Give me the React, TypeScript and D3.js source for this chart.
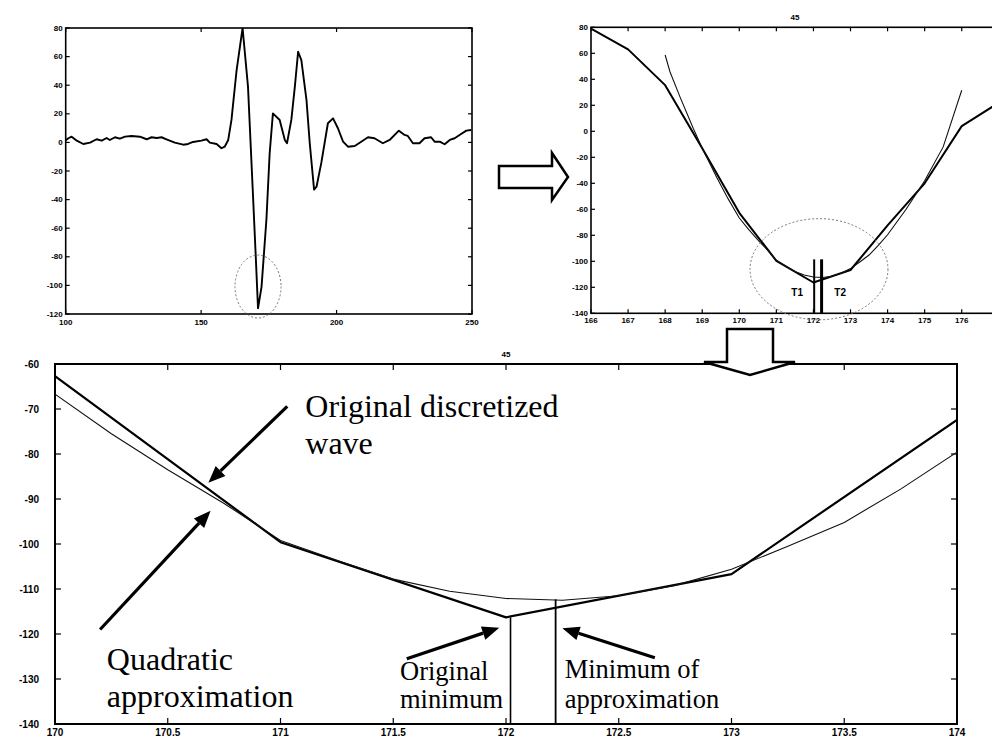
import React from "react";
import * as d3 from "d3";

// Overview of the recorded wave, [sample, amplitude]
const overviewWave: [number, number][] = [
  [100, 1.5], [101.0, 2.9], [102.2, 4.0], [104.1, 1.2], [106.5, -1.1], [109.0, -0.2],
  [111.4, 2.2], [113.3, 1.2], [115.1, 3.1], [116.3, 1.7], [118.2, 3.6], [120.0, 2.6],
  [121.9, 4.0], [124.3, 4.5], [127.4, 4.0], [129.9, 2.2], [131.7, 3.6], [133.6, 3.1],
  [135.4, 3.6], [137.2, 2.2], [140.3, -0.2], [143.4, -1.6], [145.2, -1.1], [147.0, 0.3],
  [150.1, 1.2], [152.0, 2.2], [153.2, -0.2], [155.7, -1.1], [157.5, -4.1], [158.7, -3.0],
  [160.0, 1.7], [161.2, 15.7], [161.7, 25], [163.1, 50.6], [165.3, 80], [167.3, 39],
  [169.0, -31], [170.1, -77], [171.0, -116], [172.3, -101], [174.1, -54], [175.3, -7.6],
  [176.5, 20.3], [179.0, 15.7], [180.9, 1.7], [181.7, -0.6], [183.3, 15.7], [184.6, 39],
  [185.8, 63.4], [187.0, 57.6], [188.9, 29.6], [190.1, -0.6], [191.7, -33], [192.6, -31],
  [194.4, -14], [196.8, 13.4], [198.7, 16.8], [200.5, 9.9], [202.4, 0.5], [204.2, -3.0],
  [206.7, -2.5], [209.1, 0.5], [211.6, 3.6], [214.0, 2.9], [217.1, -0.6], [219.6, 1.7],
  [223.0, 8.2], [225.1, 5.2], [226.3, 4.5], [228.2, -0.6], [230.6, -0.6], [232.5, 2.9],
  [234.9, 3.6], [236.2, 0.5], [238.1, 0.5], [239.9, -1.3], [241.8, 1.7], [243.6, 2.9],
  [245.4, 5.2], [247.9, 8.2], [249.7, 8.7],
];

// Original discretized wave around the trough, one value per sample
const sampleIndex = [166, 167, 168, 169, 170, 171, 172, 173, 174, 175, 176, 177];
const sampleValue = [79, 63, 35.5, -13, -62.7, -99.6, -116.3, -106.7, -72.4, -40, 4, 22];

// Quadratic approximation, evaluated along the trough
const approxX = [168, 168.13, 168.4, 168.76, 169, 169.4, 169.7, 170, 170.25, 170.5, 170.75, 171,
  171.25, 171.5, 171.75, 172, 172.25, 172.5, 172.75, 173, 173.25, 173.5, 173.75, 174, 174.5, 175,
  175.5, 176];
const approxY = [58.7, 45.8, 26.5, 2.2, -13, -36, -52, -66.7, -75.5, -83.5, -91, -99.2,
  -103.6, -107.8, -110.5, -112.1, -112.5, -111.5, -109.2, -105.6, -100.5, -95.2, -87.8, -79.6, -60, -38,
  -12, 31.6];

// Minimum positions
const originalMin: [number, number] = [172.02, -116.3];
const approxMin: [number, number] = [172.22, -112.3];

// Axis ticks
const overviewXTicks = [100, 150, 200, 250];
const overviewYTicks = [80, 60, 40, 20, 0, -20, -40, -60, -80, -100, -120];
const zoomXTicks = [166, 167, 168, 169, 170, 171, 172, 173, 174, 175, 176, 177];
const zoomYTicks = [80, 60, 40, 20, 0, -20, -40, -60, -80, -100, -120, -140];
const detailXTicks = [170, 170.5, 171, 171.5, 172, 172.5, 173, 173.5, 174];
const detailYTicks = [-60, -70, -80, -90, -100, -110, -120, -130, -140];

// Annotations in the detail panel (data units)
const detailArrows: { from: [number, number]; to: [number, number] }[] = [
  { from: [171.03, -69.4], to: [170.68, -86.4] },
  { from: [170.2, -119.0], to: [170.69, -92.6] },
  { from: [171.56, -125.5], to: [171.97, -118.6] },
  { from: [172.66, -125.3], to: [172.25, -118.7] },
];
const detailLabels: { x: number; y: number; text: string; size: number }[] = [
  { x: 171.11, y: -71.8, text: "Original discretized", size: 32 },
  { x: 171.11, y: -80.0, text: "wave", size: 32 },
  { x: 170.23, y: -127.9, text: "Quadratic", size: 32 },
  { x: 170.23, y: -136.2, text: "approximation", size: 32 },
  { x: 171.53, y: -130.2, text: "Original", size: 26.5 },
  { x: 171.53, y: -136.4, text: "minimum", size: 26.5 },
  { x: 172.26, y: -129.7, text: "Minimum of", size: 26.5 },
  { x: 172.26, y: -136.4, text: "approximation", size: 26.5 },
];

type Scale = d3.ScaleLinear<number, number>;

function Frame({
  xs, ys, xTicks, yTicks, fontSize, tickLen, xLabelOffset, yLabelGap, strokeWidth,
}: {
  xs: Scale; ys: Scale; xTicks: number[]; yTicks: number[]; fontSize: number;
  tickLen: number; xLabelOffset: number; yLabelGap: number; strokeWidth: number;
}) {
  const [x0, x1] = xs.range();
  const [y1, y0] = ys.range();
  return (
    <g fontFamily="'Liberation Sans', Arial, sans-serif" fontWeight="bold" fontSize={fontSize} fill="#000">
      <rect x={x0} y={y0} width={x1 - x0} height={y1 - y0} fill="none" stroke="#000" strokeWidth={strokeWidth} />
      {xTicks.map((t) => (
        <g key={"x" + t}>
          <line x1={xs(t)} x2={xs(t)} y1={y1} y2={y1 - tickLen} stroke="#000" strokeWidth={1.2} />
          <line x1={xs(t)} x2={xs(t)} y1={y0} y2={y0 + tickLen} stroke="#000" strokeWidth={1.2} />
          <text x={xs(t)} y={y1 + xLabelOffset} textAnchor="middle">{String(t)}</text>
        </g>
      ))}
      {yTicks.map((t) => (
        <g key={"y" + t}>
          <line x1={x0} x2={x0 + tickLen} y1={ys(t)} y2={ys(t)} stroke="#000" strokeWidth={1.2} />
          <line x1={x1} x2={x1 - tickLen} y1={ys(t)} y2={ys(t)} stroke="#000" strokeWidth={1.2} />
          <text x={x0 - yLabelGap} y={ys(t)} textAnchor="end" dominantBaseline="central">{String(t)}</text>
        </g>
      ))}
    </g>
  );
}

function Arrow({ from, to, width, head, headW }: { from: [number, number]; to: [number, number]; width: number; head: number; headW: number }) {
  const dx = to[0] - from[0];
  const dy = to[1] - from[1];
  const len = Math.hypot(dx, dy);
  const ux = dx / len, uy = dy / len;
  const bx = to[0] - ux * head, by = to[1] - uy * head;
  const px = -uy * headW / 2, py = ux * headW / 2;
  return (
    <g>
      <line x1={from[0]} y1={from[1]} x2={bx} y2={by} stroke="#000" strokeWidth={width} />
      <polygon points={`${to[0]},${to[1]} ${bx + px},${by + py} ${bx - px},${by - py}`} fill="#000" />
    </g>
  );
}

export default function App() {
  // Overview panel
  const ox = d3.scaleLinear().domain([100, 250]).range([65.7, 472]);
  const oy = d3.scaleLinear().domain([-120, 80]).range([314, 28]);
  // Zoomed trough panel
  const zx = d3.scaleLinear().domain([166, 177]).range([591, 998.8]);
  const zy = d3.scaleLinear().domain([-140, 80]).range([313.3, 27.3]);
  // Detail panel
  const dx = d3.scaleLinear().domain([170, 174]).range([55, 957]);
  const dy = d3.scaleLinear().domain([-140, -60]).range([724, 364]);

  const samples: [number, number][] = sampleIndex.map((s, i) => [s, sampleValue[i]]);
  const approx: [number, number][] = approxX.map((s, i) => [s, approxY[i]]);

  const lineFor = (xs: Scale, ys: Scale) =>
    d3.line<[number, number]>().x((d) => xs(d[0])).y((d) => ys(d[1]));

  const oLine = lineFor(ox, oy);
  const zLine = lineFor(zx, zy);
  const dLine = lineFor(dx, dy);

  const clipRect = (id: string, xs: Scale, ys: Scale) => {
    const [x0, x1] = xs.range();
    const [y1, y0] = ys.range();
    return (
      <clipPath id={id}>
        <rect x={x0} y={y0} width={x1 - x0} height={y1 - y0} />
      </clipPath>
    );
  };

  return (
    <svg width={992} height={737} viewBox="0 0 992 737"
      style={{ position: "absolute", left: 0, top: 0, display: "block", background: "#fff" }}>
      <defs>
        {clipRect("clip-o", ox, oy)}
        {clipRect("clip-z", zx, zy)}
        {clipRect("clip-d", dx, dy)}
      </defs>
      <rect x={0} y={0} width={992} height={737} fill="#fff" />

      {/* Overview */}
      <Frame xs={ox} ys={oy} xTicks={overviewXTicks} yTicks={overviewYTicks} fontSize={8}
        tickLen={4} xLabelOffset={11} yLabelGap={3} strokeWidth={1.6} />
      <path d={oLine(overviewWave) || ""} fill="none" stroke="#000" strokeWidth={1.9}
        strokeLinejoin="round" clipPath="url(#clip-o)" />
      <ellipse cx={ox(171.0)} cy={oy(-100.8)} rx={ox(171.0 + 8.5) - ox(171.0)} ry={oy(-100.8 - 22) - oy(-100.8)}
        fill="none" stroke="#777" strokeWidth={1} strokeDasharray="2 2" />

      {/* Zoomed trough */}
      <text x={(zx(166) + zx(177)) / 2} y={20} textAnchor="middle" fontFamily="'Liberation Sans', Arial, sans-serif"
        fontWeight="bold" fontSize={8}>45</text>
      <Frame xs={zx} ys={zy} xTicks={zoomXTicks} yTicks={zoomYTicks} fontSize={8}
        tickLen={4} xLabelOffset={10} yLabelGap={3} strokeWidth={1.6} />
      <g clipPath="url(#clip-z)">
        <path d={zLine(samples) || ""} fill="none" stroke="#000" strokeWidth={2} strokeLinejoin="round" />
        <path d={zLine(approx) || ""} fill="none" stroke="#111" strokeWidth={1.1} />
      </g>
      <line x1={zx(originalMin[0])} x2={zx(originalMin[0])} y1={zy(-98.5)} y2={zy(-140)} stroke="#000" strokeWidth={2} />
      <line x1={zx(approxMin[0])} x2={zx(approxMin[0])} y1={zy(-98.5)} y2={zy(-140)} stroke="#000" strokeWidth={3} />
      <g fontFamily="'Liberation Sans', Arial, sans-serif" fontWeight="bold" fontSize={10}>
        <text x={zx(171.56)} y={zy(-127)} textAnchor="middle">T1</text>
        <text x={zx(172.72)} y={zy(-127)} textAnchor="middle">T2</text>
      </g>
      <ellipse cx={zx(172.15)} cy={zy(-106.1)} rx={zx(172.15 + 1.86) - zx(172.15)} ry={zy(-106.1 - 38.9) - zy(-106.1)}
        fill="none" stroke="#777" strokeWidth={1} strokeDasharray="2 2" />

      {/* Detail */}
      <text x={(dx(170) + dx(174)) / 2} y={357} textAnchor="middle" fontFamily="'Liberation Sans', Arial, sans-serif"
        fontWeight="bold" fontSize={8}>45</text>
      <Frame xs={dx} ys={dy} xTicks={detailXTicks} yTicks={detailYTicks} fontSize={10}
        tickLen={6} xLabelOffset={11.5} yLabelGap={16} strokeWidth={2} />
      <g clipPath="url(#clip-d)">
        <path d={dLine(samples) || ""} fill="none" stroke="#000" strokeWidth={2.2} strokeLinejoin="round" />
        <path d={dLine(approx) || ""} fill="none" stroke="#111" strokeWidth={1.1} />
      </g>
      <line x1={dx(originalMin[0])} x2={dx(originalMin[0])} y1={dy(originalMin[1])} y2={dy(-140)} stroke="#000" strokeWidth={1.6} />
      <line x1={dx(approxMin[0])} x2={dx(approxMin[0])} y1={dy(approxMin[1])} y2={dy(-140)} stroke="#000" strokeWidth={1.8} />
      {detailArrows.map((a, i) => (
        <Arrow key={i} from={[dx(a.from[0]), dy(a.from[1])]} to={[dx(a.to[0]), dy(a.to[1])]}
          width={3.2} head={17} headW={14} />
      ))}
      <g fontFamily="'Liberation Serif', 'Times New Roman', serif" fill="#000">
        {detailLabels.map((l, i) => (
          <text key={i} x={dx(l.x)} y={dy(l.y)} fontSize={l.size}>{l.text}</text>
        ))}
      </g>

      {/* Flow arrows between panels */}
      <polygon points="499,166 552,166 552,153 568,177 552,200 552,188 499,188"
        fill="#fff" stroke="#000" strokeWidth={2.5} strokeLinejoin="miter" />
      <polygon points="727,329 773,329 773,362 795,362 750,375 704,362 727,362"
        fill="#fff" stroke="#000" strokeWidth={2.5} strokeLinejoin="miter" />
    </svg>
  );
}
